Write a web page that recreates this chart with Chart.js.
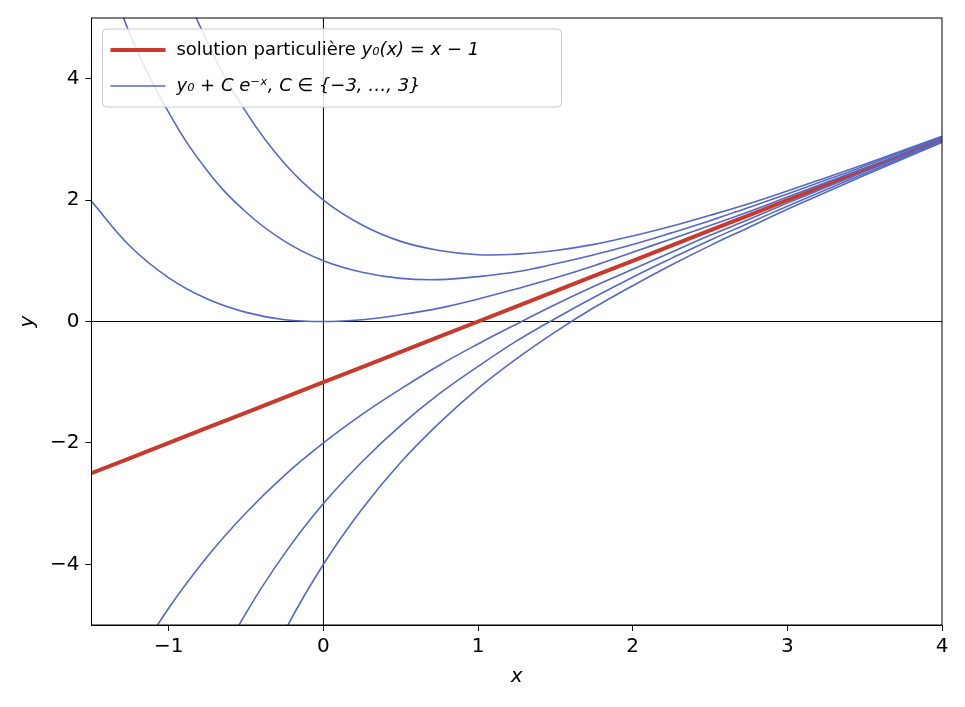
<!DOCTYPE html>
<html><head><meta charset="utf-8">
<script src="https://cdn.jsdelivr.net/npm/chart.js@4/dist/chart.umd.min.js"></script>
<style>html,body{margin:0;background:#fff}#w{width:965px;height:707px}</style>
</head><body><div id="w"><canvas id="c"></canvas></div>
<script>
const xs=[-1.5,-1.25,-1,-0.75,-0.5,-0.25,0,0.25,0.5,0.75,1,1.25,1.5,1.75,2,2.25,2.5,2.75,3,3.25,3.5,3.75,4];
const particular=[-2.5,-2.25,-2,-1.75,-1.5,-1.25,-1,-0.75,-0.5,-0.25,0,0.25,0.5,0.75,1,1.25,1.5,1.75,2,2.25,2.5,2.75,3];
const cP1=[1.98,1.24,0.72,0.37,0.15,0.03,0,0.03,0.11,0.22,0.37,0.54,0.72,0.92,1.14,1.36,1.58,1.81,2.05,2.29,2.53,2.77,3.02];
const cP2=[6.46,4.73,3.44,2.48,1.80,1.32,1,0.81,0.71,0.69,0.74,0.82,0.95,1.10,1.27,1.46,1.66,1.88,2.10,2.33,2.56,2.80,3.04];
const cP3=[10.95,8.22,6.15,4.60,3.45,2.60,2,1.59,1.32,1.17,1.10,1.11,1.17,1.27,1.41,1.57,1.75,1.94,2.15,2.37,2.59,2.82,3.05];
const cM1=[-6.98,-5.74,-4.72,-3.87,-3.15,-2.53,-2,-1.53,-1.11,-0.72,-0.37,-0.04,0.28,0.58,0.86,1.14,1.42,1.68,1.95,2.21,2.47,2.73,2.98];
const cM2=[-11.46,-9.23,-7.44,-5.98,-4.80,-3.82,-3,-2.31,-1.71,-1.19,-0.74,-0.32,0.05,0.40,0.73,1.04,1.34,1.62,1.90,2.17,2.44,2.70,2.96];
const cM3=[-15.95,-12.72,-10.15,-8.10,-6.45,-5.10,-4,-3.09,-2.32,-1.67,-1.10,-0.61,-0.17,0.23,0.59,0.93,1.25,1.55,1.85,2.13,2.41,2.68,2.95];
const xTicks=[-1,0,1,2,3,4];
const yTicks=[-4,-2,0,2,4];
const blue='#5468c4', red='#c83a2e';
const pts=a=>a.map((v,i)=>({x:xs[i],y:v}));
const curves=[cP3,cP2,cP1,cM1,cM2,cM3];
const ds=curves.map(a=>({data:pts(a),borderColor:blue,borderWidth:1.6,pointRadius:0,tension:0.4}));
ds.push({data:pts(particular),borderColor:red,borderWidth:4,pointRadius:0});
const F='DejaVu Sans';
const deco={id:'deco',
 beforeDatasetsDraw(ch){const {ctx,chartArea:a,scales:{x,y}}=ch;ctx.save();ctx.strokeStyle='#000';ctx.lineWidth=1;
  const x0=x.getPixelForValue(0),y0=y.getPixelForValue(0);
  ctx.beginPath();ctx.moveTo(x0,a.top);ctx.lineTo(x0,a.bottom);ctx.moveTo(a.left,y0);ctx.lineTo(a.right,y0);ctx.stroke();ctx.restore();},
 afterDraw(ch){const {ctx,chartArea:a}=ch;ctx.save();
  ctx.strokeStyle='#000';ctx.lineWidth=1;ctx.strokeRect(a.left,a.top,a.right-a.left,a.bottom-a.top);
  const bx=a.left+11,by=a.top+11;ctx.fillStyle='rgba(255,255,255,0.85)';ctx.strokeStyle='#ccc';
  ctx.beginPath();ctx.roundRect(bx,by,459,78,4);ctx.fill();ctx.stroke();
  ctx.strokeStyle=red;ctx.lineWidth=4;ctx.beginPath();ctx.moveTo(bx+8,by+21);ctx.lineTo(bx+63,by+21);ctx.stroke();
  ctx.strokeStyle=blue;ctx.lineWidth=1.6;ctx.beginPath();ctx.moveTo(bx+8,by+57);ctx.lineTo(bx+63,by+57);ctx.stroke();
  ctx.fillStyle='#000';ctx.textBaseline='middle';ctx.font='18px '+F;
  ctx.fillText('solution particulière ',bx+74,by+21);
  let w=ctx.measureText('solution particulière ').width;
  ctx.font='italic 18px '+F;ctx.fillText('y₀(x) = x − 1',bx+74+w,by+21);
  ctx.fillText('y₀ + C e⁻ˣ, C ∈ {−3, …, 3}',bx+74,by+57);
  ctx.restore();}};
const gridOpt={drawOnChartArea:false,drawTicks:true,tickLength:6,color:'#000'};
new Chart(document.getElementById('c'),{type:'line',data:{datasets:ds},plugins:[deco],
 options:{responsive:true,maintainAspectRatio:false,animation:false,
  layout:{padding:{top:14,right:23,left:12,bottom:14}},
  plugins:{legend:{display:false},tooltip:{enabled:false}},
  scales:{
   x:{type:'linear',min:-1.5,max:4,grid:gridOpt,border:{color:'#000'},
      afterBuildTicks:s=>{s.ticks=xTicks.map(v=>({value:v}))},
      ticks:{color:'#000',font:{family:F,size:20},padding:4,callback:v=>String(v).replace('-','−')},
      title:{display:true,text:'x',color:'#000',font:{family:F,size:20,style:'italic'},padding:{top:2}}},
   y:{type:'linear',min:-5,max:5,grid:gridOpt,border:{color:'#000'},
      afterBuildTicks:s=>{s.ticks=yTicks.map(v=>({value:v}))},
      ticks:{color:'#000',font:{family:F,size:20},padding:6,callback:v=>String(v).replace('-','−')},
      title:{display:true,text:'y',color:'#000',font:{family:F,size:20,style:'italic'}}}}}});
</script></body></html>
